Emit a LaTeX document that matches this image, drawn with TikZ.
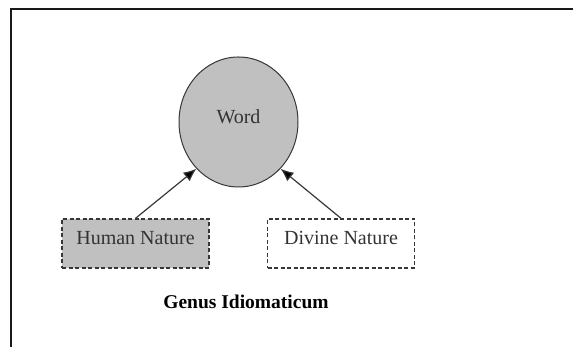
\documentclass[tikz,border=0pt]{standalone}
\usepackage{fontspec}
\setmainfont{Liberation Serif}
\usetikzlibrary{shapes.geometric,arrows.meta,positioning}
\definecolor{fillgray}{RGB}{192,192,192}
\definecolor{linegray}{RGB}{55,55,55}
\tikzstyle{Word} = [draw=linegray, ellipse, fill=fillgray, line width=1pt, minimum width=119pt, minimum height=130pt, inner sep=0pt, text depth=10pt, font=\fontsize{20}{22}\selectfont, text=black!80]
\tikzstyle{Nature} = [draw=linegray, rectangle, dashed, dash pattern=on 4pt off 2.5pt, line width=1.3pt, minimum width=147pt, minimum height=49pt, text depth=12pt, font=\fontsize{20}{22}\selectfont, text=black!80]
\tikzstyle{Arrow} = [-{Latex[length=13pt,width=11pt,fill=black]}, draw=linegray, line width=1.2pt]

\begin{document}
\begin{tikzpicture}[x=1pt,y=1pt]
    \useasboundingbox (0,0) rectangle (573,347);
    \draw[line width=2pt, black!90] (573,337.5) -| (11,0);
    \node[Word]   (word)   at (238.5,225)  {Word};
    \node[Nature, fill=fillgray] (human)  at (135.5,103.5) {Human Nature};
    \node[Nature] (divine) at (341,103.5)  {Divine Nature};
    \node[font=\fontsize{19.5}{22}\selectfont\bfseries] (genus) at (246,45) {Genus Idiomaticum};
    \draw[Arrow] (human.north)  -- (word.228);
    \draw[Arrow] (divine.north) -- (word.312);
\end{tikzpicture}
\end{document}
